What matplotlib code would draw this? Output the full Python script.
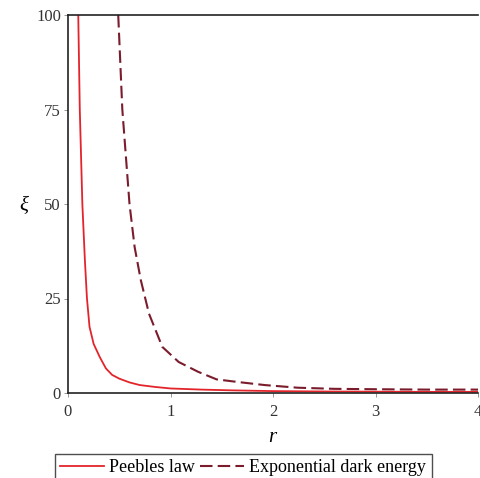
import matplotlib
matplotlib.use("Agg")
import matplotlib.pyplot as plt

r_peebles = [0.10, 0.115, 0.14, 0.165, 0.185, 0.21, 0.25, 0.31, 0.37, 0.43, 0.5, 0.6, 0.7, 0.85, 1.0, 1.3, 1.6, 2.0, 2.5, 3.0, 3.5, 4.0]
xi_peebles = [100, 75, 50, 35, 25, 17.5, 13, 9.5, 6.5, 4.8, 3.8, 2.8, 2.1, 1.6, 1.2, 0.9, 0.7, 0.5, 0.4, 0.35, 0.3, 0.3]

r_exp = [0.49, 0.53, 0.6, 0.65, 0.71, 0.79, 0.92, 1.08, 1.27, 1.45, 1.66, 1.92, 2.24, 2.6, 3.0, 3.5, 4.0]
xi_exp = [100, 75, 50, 38.6, 29.9, 21, 12.2, 8.2, 5.6, 3.6, 2.9, 2.1, 1.4, 1.1, 1.0, 0.9, 0.9]

xticks = [0, 1, 2, 3, 4]
yticks = [0, 25, 50, 75, 100]

W, H = 480, 478
fig = plt.figure(figsize=(W / 100, H / 100), dpi=100)
ax = fig.add_axes([68 / W, (H - 393) / H, (478 - 68) / W, (393 - 15) / H])

serif = "Liberation Serif"
l1, = ax.plot(r_peebles, xi_peebles, color="#e3242b", lw=1.3, label="Peebles law")
l2, = ax.plot(r_exp, xi_exp, color="#7b1c2c", lw=1.5, label="Exponential dark energy")
l2.set_dashes([6, 2.5])

ax.set_xlim(0, 4)
ax.set_ylim(0, 100)
ax.set_xticks(xticks)
ax.set_yticks(yticks)
ax.set_xticklabels([str(t) for t in xticks], fontfamily=serif, fontsize=12, color="#333333")
ax.set_yticklabels([str(t) for t in yticks], fontfamily=serif, fontsize=12, color="#333333")
ax.tick_params(axis="x", length=3, width=0.6, color="#888888", pad=5)
ax.tick_params(axis="y", length=3, width=0.6, color="#888888", pad=2)
ax.spines["right"].set_visible(False)
for s in ["left", "bottom", "top"]:
    ax.spines[s].set_linewidth(1.2)
    ax.spines[s].set_color("#222222")

fig.text(272 / W, 1 - 437 / H, "r", fontfamily=serif, fontstyle="italic", fontsize=15, ha="center", va="center")
fig.text(24 / W, 1 - 207 / H, "ξ", fontfamily=serif, fontstyle="italic", fontsize=15, ha="center", va="center")

leg = fig.legend(handles=[l1, l2], loc="upper left", bbox_to_anchor=(55 / W, 1 - 454 / H),
                 ncol=2, frameon=True, fancybox=False, borderpad=0.3, borderaxespad=0,
                 handlelength=2.4, handletextpad=0.3, columnspacing=0.3,
                 prop={"family": serif, "size": 13})
leg.get_frame().set_edgecolor("#222222")
leg.get_frame().set_linewidth(1.0)

fig.savefig("out.png", dpi=100)
